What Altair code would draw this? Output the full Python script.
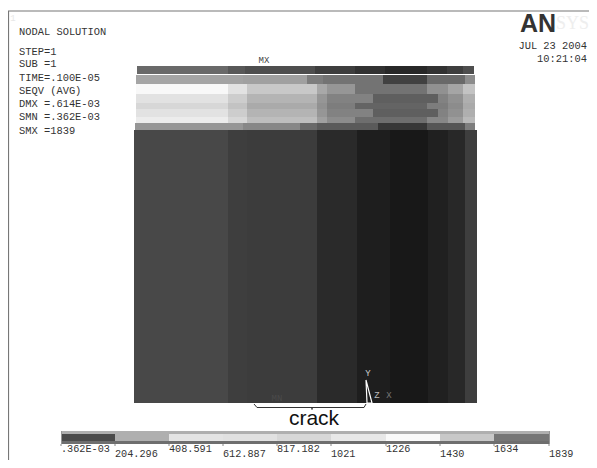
import altair as alt
import pandas as pd

MONO = "Liberation Mono"

# contour bands: (y top, y bottom, x breaks, grey levels)
band_y = [(66, 74), (75, 84), (84, 94), (94, 103), (103, 109), (109, 117), (117, 123), (123, 130), (130, 403)]
band_x = [
    [137, 228, 245, 315, 327, 355, 385, 427, 447, 463, 474],
    [136, 210, 243, 307, 323, 383, 427, 465, 475],
    [136, 228, 247, 317, 327, 355, 427, 448, 463, 475],
    [136, 228, 247, 317, 327, 373, 438, 448, 463, 475],
    [136, 228, 247, 317, 327, 355, 427, 448, 463, 475],
    [136, 228, 247, 317, 327, 373, 438, 448, 463, 475],
    [136, 228, 247, 317, 327, 355, 427, 448, 463, 475],
    [135, 243, 300, 317, 378, 427, 465, 475],
    [134, 228, 247, 317, 357, 390, 428, 448, 465, 477],
]
band_grey = [
    [105, 88, 78, 62, 62, 50, 40, 50, 62, 78],
    [165, 163, 160, 125, 115, 65, 105, 140],
    [248, 226, 200, 168, 150, 115, 145, 165, 195],
    [226, 205, 180, 150, 130, 95, 130, 145, 175],
    [215, 195, 170, 145, 125, 100, 125, 140, 170],
    [226, 205, 180, 150, 130, 95, 130, 145, 175],
    [236, 215, 190, 160, 140, 110, 135, 155, 185],
    [150, 135, 105, 90, 55, 85, 125],
    [72, 62, 60, 42, 30, 24, 32, 40, 62],
]

legend_edges = [61, 115, 169, 223, 277, 331, 386, 440, 494, 549]
legend_grey = [75, 175, 228, 225, 215, 232, 250, 200, 118]
legend_labels = [".362E-03", "204.296", "408.591", "612.887", "817.182", "1021", "1226", "1430", "1634", "1839"]

info_lines = ["NODAL SOLUTION", "STEP=1", "SUB =1", "TIME=.100E-05", "SEQV     (AVG)", "DMX =.614E-03", "SMN =.362E-03", "SMX =1839"]
info_y = [32, 52, 64, 78, 91, 104, 117, 131]


def grey(v):
    return f"rgb({v},{v},{v})"


rows = []
for (y0, y1), xs, gs in zip(band_y, band_x, band_grey):
    for a, b, g in zip(xs[:-1], xs[1:], gs):
        rows.append({"x": a, "x2": b, "y": y0, "y2": y1, "c": grey(g)})
# legend swatches
for a, b, g in zip(legend_edges[:-1], legend_edges[1:], legend_grey):
    rows.append({"x": a, "x2": b, "y": 434, "y2": 441, "c": grey(g)})
rects = pd.DataFrame(rows)

X = alt.X("x:Q", scale=alt.Scale(domain=[8, 589], nice=False, zero=False), axis=None)
Y = alt.Y("y:Q", scale=alt.Scale(domain=[460, 8], nice=False, zero=False), axis=None)

layers = []

# frame
frame = pd.DataFrame([{"x": 8.5, "y": 460, "k": 0}, {"x": 8.5, "y": 11, "k": 1}, {"x": 589, "y": 11, "k": 2}])
layers.append(alt.Chart(frame).mark_line(color="#777777", strokeWidth=1.2).encode(X, Y, order="k:Q"))

legend_box = pd.DataFrame([
    {"x": 61, "x2": 550, "y": 431, "y2": 434, "c": grey(175)},
    {"x": 61, "x2": 550, "y": 441, "y2": 444, "c": grey(110)},
    {"x": 61, "x2": 62, "y": 431, "y2": 444, "c": grey(150)},
    {"x": 549, "x2": 550, "y": 431, "y2": 444, "c": grey(150)},
])
rect_layer = lambda d: alt.Chart(d).mark_rect(strokeWidth=0).encode(
    X, alt.X2("x2:Q"), Y, alt.Y2("y2:Q"), color=alt.Color("c:N", scale=None))
layers.append(rect_layer(rects))
layers.append(rect_layer(legend_box))

# legend ticks
ticks = pd.DataFrame({"x": legend_edges, "y": [444] * 10, "y2": [446] * 10})
layers.append(alt.Chart(ticks).mark_rule(color="#888888", strokeWidth=1).encode(X, Y, alt.Y2("y2:Q")))

# legend labels
lab = pd.DataFrame({"x": legend_edges, "t": legend_labels, "y": [449 if i % 2 == 0 else 454 for i in range(10)]})
layers.append(alt.Chart(lab).mark_text(font=MONO, fontSize=10.2, align="left", baseline="middle", color="#333333")
              .encode(X, Y, text="t:N"))

# info block
info = pd.DataFrame({"x": [19] * len(info_lines), "y": info_y, "t": info_lines})
layers.append(alt.Chart(info).mark_text(font=MONO, fontSize=10.4, align="left", baseline="middle", color="#333333")
              .encode(X, Y, text="t:N"))

# date
date = pd.DataFrame({"x": [587, 587], "y": [46, 59], "t": ["JUL 23 2004", "10:21:04"]})
layers.append(alt.Chart(date).mark_text(font=MONO, fontSize=10.4, align="right", baseline="middle", color="#333333")
              .encode(X, Y, text="t:N"))

# logo
logo = pd.DataFrame({"x": [520], "y": [24], "t": ["AN"]})
layers.append(alt.Chart(logo).mark_text(font="Liberation Sans", fontWeight="bold", fontSize=25, align="left",
                                        baseline="middle", color="#333333").encode(X, Y, text="t:N"))
logo2 = pd.DataFrame({"x": [556], "y": [24], "t": ["SYS"]})
layers.append(alt.Chart(logo2).mark_text(font="Liberation Serif", fontSize=18, align="left",
                                         baseline="middle", color="#eeeeee").encode(X, Y, text="t:N"))

# small labels
small = pd.DataFrame({"x": [264, 368, 377, 389], "y": [60, 373, 395, 395], "t": ["MX", "Y", "Z", "X"], "c": ["#444444", "#cccccc", "#bbbbbb", "#777777"]})
layers.append(alt.Chart(small).mark_text(font=MONO, fontSize=9, align="center", baseline="middle")
              .encode(X, Y, text="t:N", color=alt.Color("c:N", scale=None)))
faint = pd.DataFrame({"x": [13, 277], "y": [18, 398], "t": ["1", "MN"], "c": ["#e8e8e8", "#4a4a4a"]})
layers.append(alt.Chart(faint).mark_text(font=MONO, fontSize=9, align="center", baseline="middle")
              .encode(X, Y, text="t:N", color=alt.Color("c:N", scale=None)))

# triad
triad = pd.DataFrame({"x": [366, 367, 372, 366], "y": [380, 403, 403, 380], "k": [0, 1, 2, 3]})
layers.append(alt.Chart(triad).mark_line(color="white", strokeWidth=1.2).encode(X, Y, order="k:Q"))

# crack bracket
bracket = pd.DataFrame({"x": [254, 257, 312, 312, 312, 364, 366], "y": [404, 407.5, 407.5, 409.5, 407.5, 407.5, 404], "k": list(range(7))})
layers.append(alt.Chart(bracket).mark_line(color="#333333", strokeWidth=1).encode(X, Y, order="k:Q"))
crack = pd.DataFrame({"x": [314], "y": [419], "t": ["crack"]})
layers.append(alt.Chart(crack).mark_text(font="Liberation Sans", fontSize=21, align="center", baseline="middle", color="#111111")
              .encode(X, Y, text="t:N"))

chart = alt.layer(*layers).properties(width=581, height=452, padding=0, background="white",
                                      autosize=alt.AutoSizeParams(type="none")).configure_view(stroke=None)
chart.save("out.html", embed_options={"renderer": "svg", "actions": False})
